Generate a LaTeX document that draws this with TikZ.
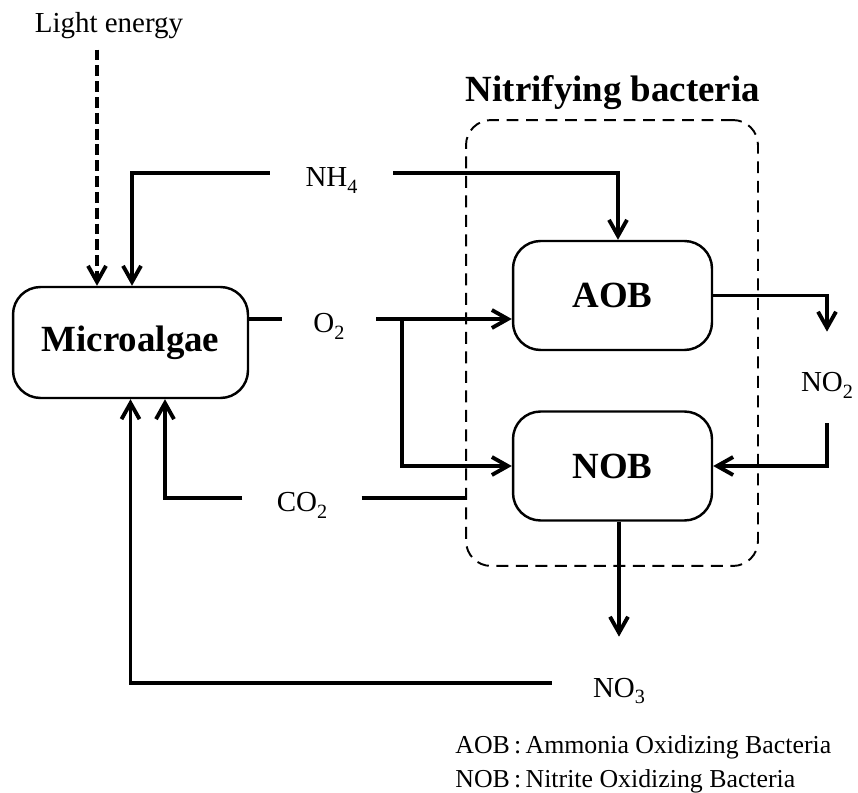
\documentclass[tikz,border=0pt]{standalone}
\usepackage{fontspec}
\setmainfont{Liberation Serif}
\usetikzlibrary{positioning,arrows.meta}

\newcommand{\chemsub}[1]{\raisebox{-0.24em}{\fontsize{11.5}{12}\selectfont #1}}

\begin{document}
\begin{tikzpicture}[
  x=0.02cm, y=-0.02cm,
  organism/.style={draw, rounded corners=0.55cm, line width=1.4pt, align=center,
                   font=\bfseries\fontsize{21}{25}\selectfont},
  chem/.style={font=\fontsize{16.5}{19.8}\selectfont, text height=0.56cm,
               text depth=0pt},
  arr/.style={-{Straight Barb[length=3.2mm,width=3.6mm]}, line width=2.2pt},
  link/.style={line width=2.2pt},
  lightarr/.style={arr, dash pattern=on 6.2pt off 2.8pt},
  group/.style={draw, line width=1.1pt, rounded corners=0.5cm,
                dash pattern=on 6.8pt off 4.3pt},
]
\useasboundingbox (0,0) rectangle (858,793);

%% Nodes
\node[group, minimum width=5.84cm, minimum height=8.92cm] (nitri) at (612,343) {};
\node[anchor=base, font=\bfseries\fontsize{21}{25}\selectfont] (ntitle) at (613,102)
  {Nitrifying bacteria};

\node[anchor=base, inner sep=0.2cm, font=\fontsize{16.5}{19.8}\selectfont]
  (light) at (109,33) {Light energy};

\node[organism, minimum width=4.7cm, minimum height=2.22cm] (micro) at (130.5,342.5) {Microalgae};
\node[organism, minimum width=3.98cm, minimum height=2.18cm] (aob) at (612.5,295.5) {AOB};
\node[organism, minimum width=3.98cm, minimum height=2.18cm] (nob) at (612.5,466) {NOB};

\node[chem, inner xsep=0.71cm] (nh4) at (331.5,173) {NH\chemsub{4}};
\node[chem, inner xsep=0.63cm] (o2)  at (329,319)   {O\chemsub{2}};
\node[chem, inner xsep=0.68cm] (co2) at (302,498)   {CO\chemsub{2}};
\node[chem, minimum height=1.82cm] (no2) at (827,377.5) {NO\chemsub{2}};
\node[chem, inner xsep=0.82cm, minimum height=1.84cm] (no3) at (619,683) {NO\chemsub{3}};
\coordinate (split) at (402,319);

\node[anchor=base west, inner sep=0pt, font=\fontsize{14.7}{18}\selectfont]
  (legaob) at (455,753) {AOB\,:\,Ammonia Oxidizing Bacteria};
\node[anchor=base west, inner sep=0pt, font=\fontsize{14.7}{18}\selectfont]
  (legnob) at (455,787) {NOB\,:\,Nitrite Oxidizing Bacteria};

%% Connectors
% light energy
\draw[lightarr] ([xshift=-0.24cm]light.south) -- ([xshift=-0.24cm]light.south |- micro.north);

% ammonium to algae and to AOB
\draw[arr] (nh4.west) -| ([xshift=0.03cm]micro.north);
\draw[arr] (nh4.east) -| ([xshift=0.11cm]aob.north);

% oxygen from algae to AOB and NOB
\draw[link] (o2.west) -- (o2 -| micro.east);
\draw[arr] (o2.east) -- (o2 -| aob.west);
\draw[arr] (split) |- (nob.west);

% nitrite
\draw[arr] (aob.east) -| (no2.north);
\draw[arr] (no2.south) |- (nob.east);

% carbon dioxide back to algae
\draw[arr] (co2.west) -| ([xshift=0.69cm]micro.south);
\draw[link] (co2.east) -- (co2 -| nitri.west);

% nitrate
\draw[arr] (no3.north |- nob.south) -- (no3.north);
\draw[arr] (no3.west) -| (micro.south);

\end{tikzpicture}
\end{document}
